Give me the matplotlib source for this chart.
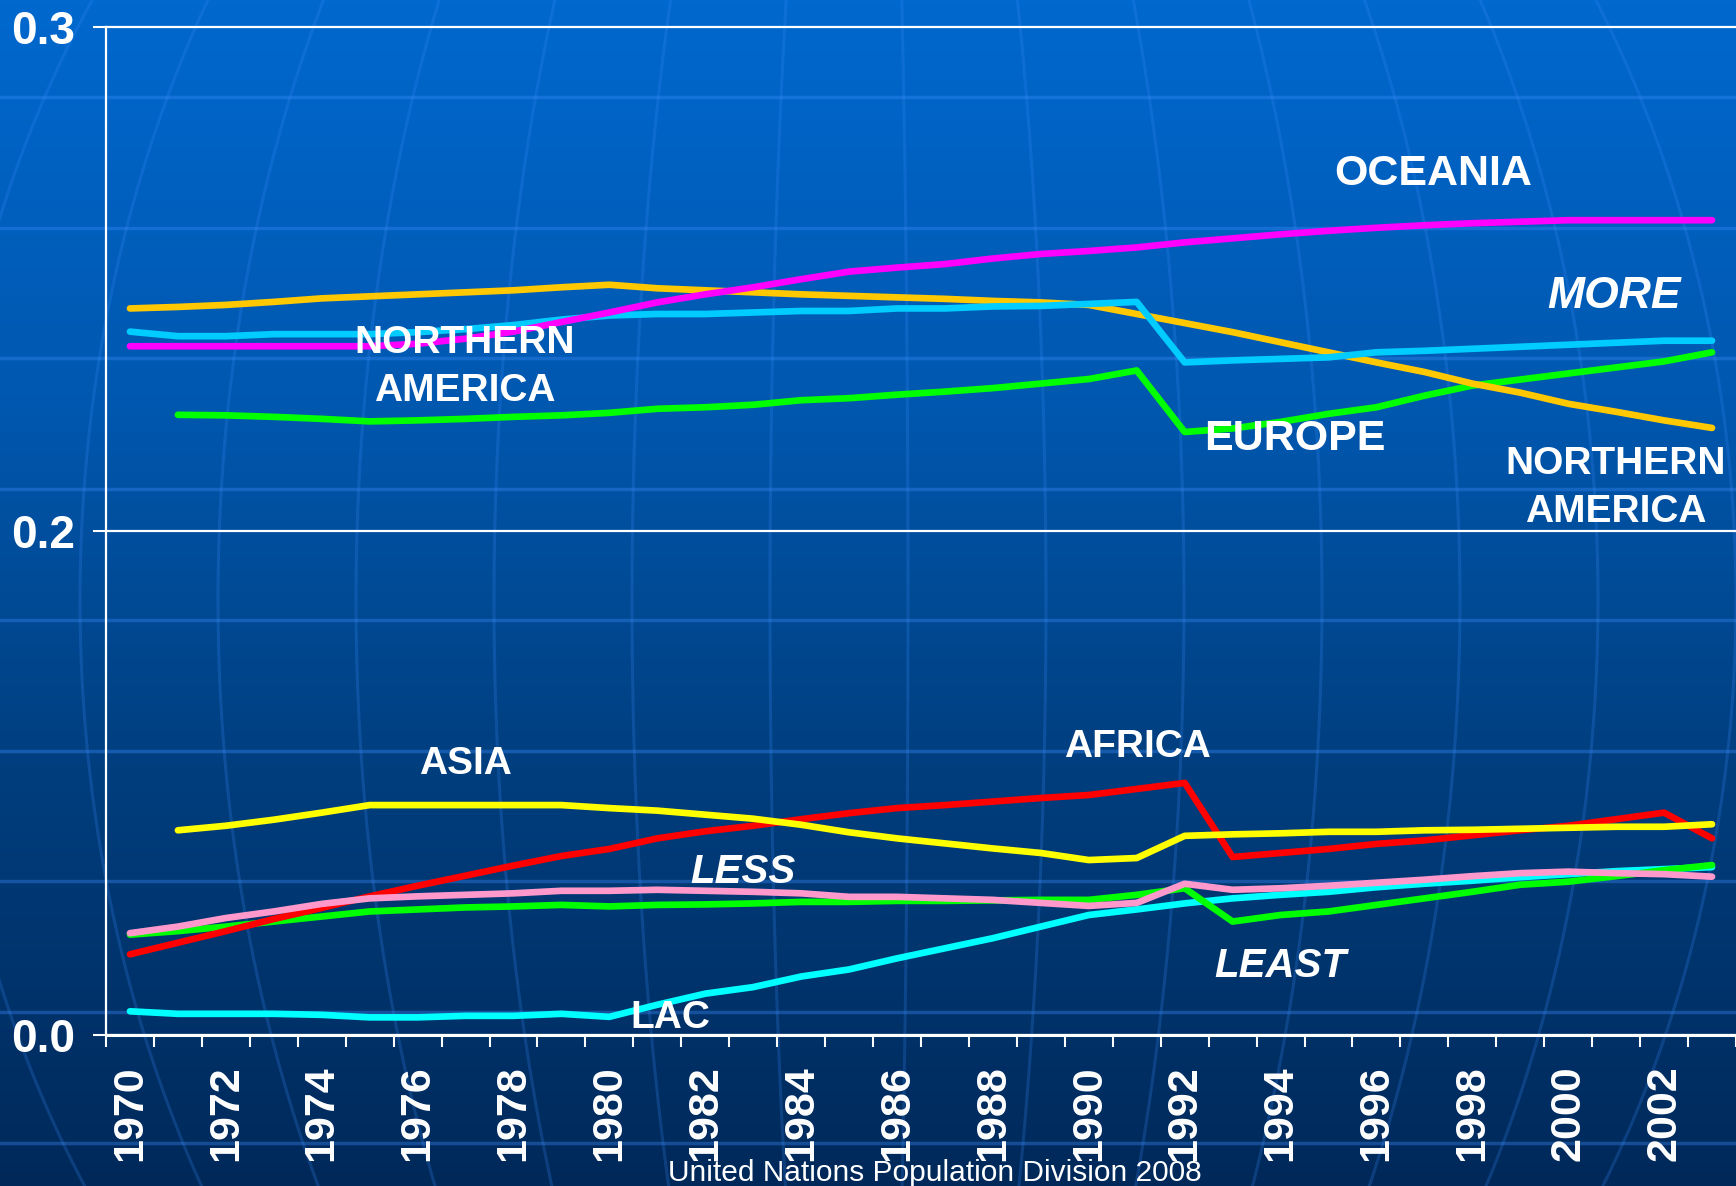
import numpy as np
import matplotlib
matplotlib.use("Agg")
import matplotlib.pyplot as plt
from matplotlib.colors import LinearSegmentedColormap

plt.rcParams['font.family'] = ['Liberation Sans', 'DejaVu Sans']

# ---- data ----
years = list(range(1970, 2004))
nan = np.nan

oceania = [0.2366, 0.2366, 0.2366, 0.2366, 0.2366, 0.2366, 0.2371, 0.2381, 0.2395, 0.2414,
           0.2433, 0.2453, 0.2469, 0.2483, 0.2499, 0.2514, 0.2522, 0.2529, 0.2540, 0.2549,
           0.2555, 0.2562, 0.2572, 0.2580, 0.2588, 0.2595, 0.2601, 0.2606, 0.2610, 0.2613,
           0.2616, 0.2616, 0.2616, 0.2616]
more_dev = [0.2395, 0.2386, 0.2386, 0.2390, 0.2390, 0.2390, 0.2394, 0.2400, 0.2408, 0.2419,
            0.2427, 0.2430, 0.2430, 0.2433, 0.2436, 0.2436, 0.2441, 0.2441, 0.2445, 0.2446,
            0.2450, 0.2454, 0.2334, 0.2338, 0.2341, 0.2344, 0.2354, 0.2357, 0.2361, 0.2365,
            0.2369, 0.2373, 0.2377, 0.2377]
north_america = [0.2441, 0.2444, 0.2448, 0.2454, 0.2461, 0.2465, 0.2469, 0.2473, 0.2477, 0.2483,
                 0.2488, 0.2481, 0.2477, 0.2473, 0.2469, 0.2466, 0.2463, 0.2460, 0.2456, 0.2453,
                 0.2448, 0.2430, 0.2412, 0.2394, 0.2374, 0.2354, 0.2334, 0.2315, 0.2292, 0.2274,
                 0.2252, 0.2236, 0.2219, 0.2204]
europe = [nan, 0.2230, 0.2229, 0.2226, 0.2222, 0.2217, 0.2219, 0.2222, 0.2226, 0.2229,
          0.2234, 0.2242, 0.2245, 0.2250, 0.2259, 0.2263, 0.2270, 0.2276, 0.2283, 0.2292,
          0.2301, 0.2318, 0.2196, 0.2203, 0.2216, 0.2232, 0.2245, 0.2268, 0.2288, 0.2300,
          0.2312, 0.2324, 0.2336, 0.2354]
asia = [nan, 0.1406, 0.1415, 0.1427, 0.1441, 0.1456, 0.1456, 0.1456, 0.1456, 0.1456,
        0.1450, 0.1445, 0.1437, 0.1429, 0.1417, 0.1402, 0.1390, 0.1380, 0.1370, 0.1361,
        0.1347, 0.1351, 0.1395, 0.1398, 0.1400, 0.1403, 0.1403, 0.1406, 0.1407, 0.1409,
        0.1411, 0.1413, 0.1413, 0.1418]
africa = [0.1160, 0.1183, 0.1206, 0.1230, 0.1252, 0.1275, 0.1296, 0.1316, 0.1336, 0.1355,
          0.1369, 0.1390, 0.1404, 0.1415, 0.1428, 0.1440, 0.1450, 0.1456, 0.1463, 0.1470,
          0.1476, 0.1488, 0.1500, 0.1353, 0.1361, 0.1369, 0.1379, 0.1386, 0.1396, 0.1406,
          0.1415, 0.1428, 0.1441, 0.1390]
less_dev = [0.1202, 0.1215, 0.1232, 0.1245, 0.1260, 0.1271, 0.1275, 0.1278, 0.1281, 0.1286,
            0.1286, 0.1288, 0.1286, 0.1284, 0.1281, 0.1274, 0.1274, 0.1271, 0.1268, 0.1262,
            0.1256, 0.1262, 0.1300, 0.1288, 0.1291, 0.1296, 0.1302, 0.1308, 0.1315, 0.1321,
            0.1324, 0.1321, 0.1319, 0.1314]
least_dev = [0.1199, 0.1206, 0.1215, 0.1225, 0.1235, 0.1245, 0.1249, 0.1253, 0.1255, 0.1258,
             0.1255, 0.1258, 0.1259, 0.1261, 0.1264, 0.1264, 0.1266, 0.1266, 0.1267, 0.1268,
             0.1268, 0.1278, 0.1291, 0.1225, 0.1238, 0.1245, 0.1258, 0.1271, 0.1284, 0.1298,
             0.1304, 0.1315, 0.1327, 0.1337]
lac = [0.1047, 0.1042, 0.1042, 0.1042, 0.1040, 0.1035, 0.1035, 0.1038, 0.1038, 0.1042,
       0.1036, 0.1060, 0.1082, 0.1095, 0.1116, 0.1130, 0.1152, 0.1172, 0.1192, 0.1215,
       0.1238, 0.1249, 0.1261, 0.1271, 0.1278, 0.1284, 0.1293, 0.1300, 0.1306, 0.1313,
       0.1319, 0.1325, 0.1329, 0.1333]

ytick_vals = [0.1, 0.2, 0.3]
ytick_labels = ['0.0', '0.2', '0.3']

# drawing order: bottom first
series = [
    (lac, '#00FFFF'),
    (least_dev, '#00FF00'),
    (africa, '#FF0000'),
    (less_dev, '#FF99CC'),
    (asia, '#FFFF00'),
    (europe, '#00FF00'),
    (north_america, '#FFC800'),
    (more_dev, '#00CCFF'),
    (oceania, '#FF00FF'),
]

W, H = 1736, 1186
fig = plt.figure(figsize=(W / 100, H / 100), dpi=100)

# background: blue gradient with faint globe lines
bg = fig.add_axes([0, 0, 1, 1])
bg.set_xlim(0, W)
bg.set_ylim(H, 0)
bg.axis('off')
grad = np.linspace(0, 1, 256).reshape(-1, 1)
cmap = LinearSegmentedColormap.from_list(
    'bg', [(0, '#0068CE'), (0.35, '#0057AE'), (0.65, '#003E7E'), (1, '#00295A')])
bg.imshow(grad, cmap=cmap, aspect='auto', extent=[0, W, H, 0])
for yy in 97 + 130.7 * np.arange(9):
    bg.axhline(yy, color='#3d8dff', alpha=0.35, lw=2.5)
yy = np.linspace(0, H, 300)
shrink = np.sqrt(1 - ((yy - 600) / 1100) ** 2)
for k in range(-1, 13):
    x0 = 80 + 138 * k
    bg.plot(870 + (x0 - 870) * shrink, yy, color='#3d8dff', alpha=0.22, lw=2.2)

# main chart
ax = fig.add_axes([106 / W, 1 - 1035 / H, 1 - 106 / W, (1035 - 26.6) / H])
ax.set_facecolor('none')
idx = np.arange(len(years))
for vals, col in series:
    ax.plot(idx, vals, color=col, lw=4.8, solid_capstyle='round',
            solid_joinstyle='round', zorder=3)

ax.set_xlim(-0.5, len(years) - 0.5)
ax.set_ylim(0.1, 0.3)

for s in ['top', 'right']:
    ax.spines[s].set_visible(False)
ax.spines['left'].set_color('white')
ax.spines['left'].set_linewidth(1.6)
ax.spines['bottom'].set_color('white')
ax.spines['bottom'].set_linewidth(2.2)

ax.set_yticks(ytick_vals)
ax.set_yticklabels(ytick_labels)
ax.yaxis.grid(True, color='white', lw=1.6)
for gl in ax.get_ygridlines():
    gl.set_clip_on(False)
ax.tick_params(axis='y', colors='white', length=9.4, width=1.5, pad=13,
               labelsize=33)

ax.set_xticks(idx[::2])
ax.set_xticklabels([str(y) for y in years[::2]], rotation=90)
ax.set_xticks(np.arange(len(years) + 1) - 0.5, minor=True)
ax.tick_params(axis='x', which='major', length=0, pad=22, labelsize=31,
               colors='white')
ax.tick_params(axis='x', which='minor', length=8.6, width=1.5, colors='white')
for lab in ax.get_xticklabels() + ax.get_yticklabels():
    lab.set_fontweight('bold')

# series labels: text, centre x, centre y (pixels), style, size
labels = [
    ('OCEANIA', 1433, 174, 'normal', 31),
    ('MORE', 1614, 296, 'italic', 32),
    ('NORTHERN\nAMERICA', 465, 367, 'normal', 28),
    ('EUROPE', 1295, 439, 'normal', 31),
    ('NORTHERN\nAMERICA', 1616, 488, 'normal', 28),
    ('ASIA', 465, 764, 'normal', 28),
    ('AFRICA', 1137, 747, 'normal', 28),
    ('LESS', 743, 872, 'italic', 29),
    ('LEAST', 1280, 966, 'italic', 29),
    ('LAC', 670, 1018, 'normal', 28),
]
for txt, px, py, sty, fs in labels:
    fig.text(px / W, 1 - py / H, txt, color='white', fontsize=fs,
             fontweight='bold', style=sty, ha='center', va='center',
             multialignment='center', linespacing=1.4, zorder=10)

fig.text(935 / W, 1 - 1173 / H, 'United Nations Population Division 2008',
         color='white', fontsize=21.5, ha='center', va='center')

fig.savefig('out.png', dpi=100)
